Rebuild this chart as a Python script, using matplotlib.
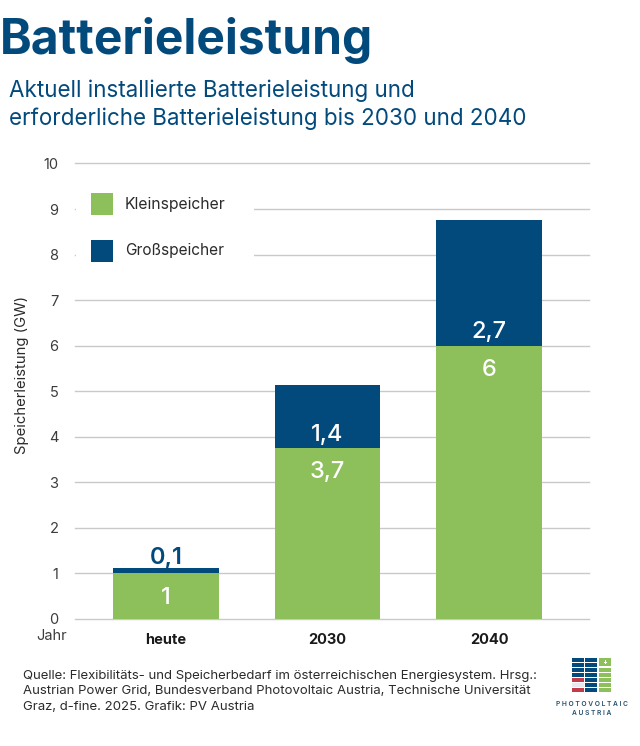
import matplotlib
matplotlib.use("Agg")
import matplotlib.pyplot as plt
from matplotlib.patches import Rectangle

plt.rcParams['font.family'] = ['Inter', 'DejaVu Sans']

categories = ['heute', '2030', '2040']
klein = [1.0, 3.75, 6.0]
gross = [0.12, 1.39, 2.76]
klein_labels = ['1', '3,7', '6']
gross_labels = ['0,1', '1,4', '2,7']
y_ticks = [0, 1, 2, 3, 4, 5, 6, 7, 8, 9, 10]

BLUE = '#034A7C'
GREEN = '#8DBF5B'
W, H = 640, 746
fig = plt.figure(figsize=(6.4, 7.46), dpi=100, facecolor='white')

def px(x, y):
    return x / W, 1 - y / H

ax = fig.add_axes([75 / W, 1 - 619 / H, (589 - 75) / W, (619 - 163.5) / H])
xs = list(range(len(categories)))
ax.set_xlim(-0.5635, 2.619)
ax.set_ylim(0, 10)
ax.bar(xs, klein, width=0.651, color=GREEN, zorder=3)
ax.bar(xs, gross, width=0.651, bottom=klein, color=BLUE, zorder=3)
ax.set_yticks(y_ticks)
ax.set_yticklabels([str(t) for t in y_ticks], fontsize=10.5, color='#3c3c3c')
for lab in ax.get_yticklabels():
    lab.set_y(lab.get_position()[1])
ax.set_xticks(xs)
ax.set_xticklabels(categories, fontsize=10.5, fontweight='bold', color='#1a1a1a')
ax.tick_params(axis='both', length=0)
ax.tick_params(axis='y', pad=12)
ax.tick_params(axis='x', pad=10)
ax.grid(axis='y', color='#c9c9c9', lw=1, zorder=1)
for gl_ in ax.get_ygridlines():
    gl_.set_clip_on(False)
ax.set_axisbelow(True)
for s in ax.spines.values():
    s.set_visible(False)
fig.text(*px(22, 375), 'Speicherleistung (GW)', fontsize=10.7, color='#2b2b2b', rotation=90, ha='center', va='center')

for x, k, g, kl, gl in zip(xs, klein, gross, klein_labels, gross_labels):
    ax.text(x, k - 0.53, kl, ha='center', va='center', fontsize=17, fontweight='medium', color='white', zorder=4)
    if g < 0.5:
        ax.text(x, k + g + 0.22, gl, ha='center', va='center', fontsize=17, fontweight='semibold', color=BLUE, zorder=4)
    else:
        ax.text(x, k + 0.3, gl, ha='center', va='center', fontsize=17, fontweight='medium', color='white', zorder=4)

# white mask and legend
ax.add_patch(Rectangle(((76 - 75) / 514, (619 - 270) / 455.5), (254 - 76) / 514, 95 / 455.5,
                       transform=ax.transAxes, fc='white', ec='none', zorder=2))
for label, col, top, fs in [('Kleinspeicher', GREEN, 193, 11.3), ('Großspeicher', BLUE, 240, 11.1)]:
    fig.patches.append(Rectangle(px(91, top + 22), 22 / W, 22 / H, transform=fig.transFigure,
                                 fc=col, ec='none', zorder=5))
    fig.text(*px(125, top + 11), label, fontsize=fs, color='#2b2b2b', va='center', ha='left')

fig.text(*px(0, 41), 'Batterieleistung', fontsize=34.5, fontweight='bold', color=BLUE, va='center', ha='left')
fig.text(*px(9, 91), 'Aktuell installierte Batterieleistung und', fontsize=16.15, color=BLUE, va='center', ha='left')
fig.text(*px(9, 119), 'erforderliche Batterieleistung bis 2030 und 2040', fontsize=16.15, color=BLUE, va='center', ha='left')
fig.text(*px(36, 636), 'Jahr', fontsize=10.5, color='#3c3c3c', va='center', ha='left')

for y, t in [(675.5, 'Quelle: Flexibilitäts- und Speicherbedarf im österreichischen Energiesystem. Hrsg.:'),
             (691.5, 'Austrian Power Grid, Bundesverband Photovoltaic Austria, Technische Universität'),
             (706.5, 'Graz, d-fine. 2025. Grafik: PV Austria')]:
    fig.text(*px(23, y), t, fontsize=9.47, color='#2b2b2b', va='center', ha='left')

# logo
def logo_rect(x0, y0, x1, y1, c):
    fig.patches.append(Rectangle(px(x0, y1), (x1 - x0) / W, (y1 - y0) / H, transform=fig.transFigure, fc=c, ec='none'))

rows = [658 + i * 5 for i in range(7)]
for i, r in enumerate(rows):
    logo_rect(572, r, 584, r + 3.8, '#C23B4A' if i in (4, 6) else ('#E8E8EE' if i == 5 else BLUE))
    logo_rect(585, r, 597, r + 3.8, BLUE)
    if i >= 2:
        logo_rect(599, r, 611, r + 3.8, GREEN)
logo_rect(599, 658, 611, 666, GREEN)
logo_rect(603.5, 661.5, 606.5, 662.5, 'white')
logo_rect(604.5, 660, 605.5, 664, 'white')
fig.text(*px(592, 704), 'P H O T O V O L T A I C', fontsize=4.8, color='#24506f', ha='center', va='center', fontweight='semibold')
fig.text(*px(592, 713), 'A U S T R I A', fontsize=4.8, color='#24506f', ha='center', va='center', fontweight='semibold')

fig.savefig('out.png', dpi=100)
